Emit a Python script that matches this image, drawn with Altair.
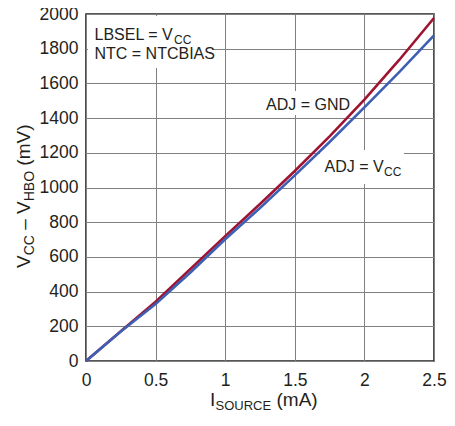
import altair as alt
import pandas as pd

# ---- data ----
i_source = [0, 0.25, 0.5, 0.75, 1.0, 1.25, 1.5, 1.75, 2.0, 2.25, 2.5]
v_adj_gnd = [0, 172, 342, 530, 720, 905, 1095, 1295, 1507, 1735, 1977]
v_adj_vcc = [0, 170, 328, 510, 702, 882, 1070, 1262, 1462, 1665, 1877]
x_ticks = [0, 0.5, 1, 1.5, 2, 2.5]
y_ticks = [0, 200, 400, 600, 800, 1000, 1200, 1400, 1600, 1800, 2000]

RED = "#9e1432"
BLUE = "#3d5fb4"
INK = "#231f20"
FONT = "Liberation Sans, Arial, sans-serif"
NB = "\u00a0"

df_gnd = pd.DataFrame({"i": i_source, "v": v_adj_gnd})
df_vcc = pd.DataFrame({"i": i_source, "v": v_adj_vcc})
dummy = pd.DataFrame({"k": [0]})

xscale = alt.Scale(domain=[0, 2.5], nice=False, zero=True)
yscale = alt.Scale(domain=[0, 2000], nice=False)


def xaxis():
    return alt.Axis(values=x_ticks, labelExpr="datum.value", title=None,
                    labelFont=FONT, labelFontSize=17.5, labelColor=INK,
                    labelPadding=10, ticks=False, grid=True,
                    gridColor="#808080", gridWidth=1, domain=False,
                    labelFlush=False, labelOverlap=False)


def yaxis():
    return alt.Axis(values=y_ticks, format="d", title=None,
                    labelFont=FONT, labelFontSize=17.5, labelColor=INK,
                    labelPadding=8, ticks=False, grid=True,
                    gridColor="#808080", gridWidth=1, domain=False,
                    labelFlush=False, labelOverlap=False)


def xy():
    return dict(x=alt.X("i:Q", scale=xscale, axis=xaxis()),
                y=alt.Y("v:Q", scale=yscale, axis=yaxis()))


base_axes = alt.Chart(df_gnd).mark_point(opacity=0).encode(**xy())


def box(x1, x2, y1, y2):
    return alt.Chart(dummy).mark_rect(color="white").encode(
        x=alt.value(x1), x2=alt.value(x2), y=alt.value(y1), y2=alt.value(y2))


def txt(s, px, py, size=16, angle=0):
    return alt.Chart(dummy).mark_text(
        text=s, font=FONT, fontSize=size, color=INK, align="left",
        baseline="alphabetic", angle=angle).encode(
        x=alt.value(px), y=alt.value(py))


boxes = [
    box(2, 126, 2, 54),
    box(175, 266, 77, 101),
    box(234, 318, 136, 170),
]

line_gnd = alt.Chart(df_gnd).mark_line(color=RED, strokeWidth=2.6).encode(**xy())
line_vcc = alt.Chart(df_vcc).mark_line(color=BLUE, strokeWidth=2.6).encode(**xy())

texts = [
    # annotations
    txt("LBSEL = V", 8.5, 26),
    txt("CC", 88, 30, 12),
    txt("NTC = NTCBIAS", 8.5, 44.5),
    txt("ADJ = GND", 180, 95.5),
    txt("ADJ = V", 238.5, 158),
    txt("CC", 298, 162, 12),
    # x title
    txt("I", 124, 392, 19),
    txt("SOURCE", 129.5, 396, 13),
    txt("(mA)", 190.5, 392, 19),
    # y title (rotated)
    txt("V", -56, 254, 19, 270),
    txt("CC", -52, 241.3, 14, 270),
    txt("\u2013" + NB + "V", -56, 215.8, 19, 270),
    txt("HBO", -52, 187.3, 14, 270),
    txt("(mV)", -56, 151.7, 19, 270),
]

chart = alt.layer(base_axes, *boxes, line_gnd, line_vcc, *texts).properties(
    width=348, height=347,
    autosize=alt.AutoSizeParams(type="none"),
    padding={"left": 78, "top": 6, "right": 13, "bottom": 52},
).configure_view(stroke="#222222", strokeWidth=1.6
).configure_axis(labelOverlap=False)

chart.save("out.html", embed_options={"renderer": "svg", "actions": False})
